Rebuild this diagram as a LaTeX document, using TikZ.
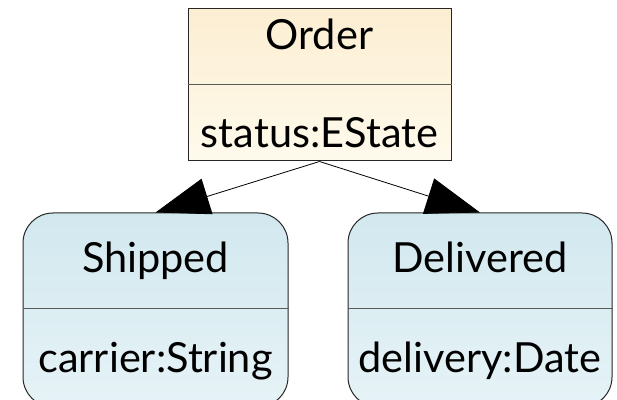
\documentclass[tikz,border=0pt]{standalone}
\usepackage{fontspec}
\setmainfont{Lato}
\usetikzlibrary{arrows.meta}
\definecolor{ordtop}{RGB}{252,238,210}
\definecolor{ordbot}{RGB}{254,250,236}
\definecolor{subtop}{RGB}{210,232,239}
\definecolor{subbot}{RGB}{230,243,247}

\begin{document}
\begin{tikzpicture}[x=1pt,y=1pt]
\useasboundingbox (0,0) rectangle (617,399);
\tikzstyle{classbox}=[rectangle, draw=black!85, line width=1pt, inner sep=0pt]
\tikzstyle{cltext}=[anchor=base, inner sep=0pt, font=\fontsize{41.5}{46}\selectfont]
\tikzstyle{divider}=[draw=black!65, line width=1pt]
\tikzstyle{inherit}=[draw=black, line width=0.8pt, -{Triangle[length=54pt,width=37pt]}]

\node[classbox, top color=ordtop, bottom color=ordbot, minimum width = 263pt,
    minimum height = 152pt] (ord) at (319.5,314) {};
\node[classbox, rounded corners=30pt, top color=subtop, bottom color=subbot,
    minimum width = 265pt, minimum height = 194pt] (shp) at (155.5,89) {};
\node[classbox, rounded corners=30pt, top color=subtop, bottom color=subbot,
    minimum width = 264pt, minimum height = 194pt] (dlv) at (480,89) {};

\draw[divider] (ord.west) -- (ord.east);
\draw[divider] ([yshift=2pt]shp.west) -- ([yshift=2pt]shp.east);
\draw[divider] ([yshift=2pt]dlv.west) -- ([yshift=2pt]dlv.east);

\node[cltext] (ordname) at (319.5,349) {Order};
\node[cltext] (ordattr) at (319.5,251) {status:EState};
\node[cltext] (shpname) at (155.5,127) {Shipped};
\node[cltext] (shpattr) at (155.5,27) {carrier:String};
\node[cltext] (dlvname) at (480,127) {Delivered};
\node[cltext] (dlvattr) at (480,27) {delivery:Date};

\draw[inherit] (ord.south) -- (shp.north);
\draw[inherit] (ord.south) -- (dlv.north);
\end{tikzpicture}
\end{document}
